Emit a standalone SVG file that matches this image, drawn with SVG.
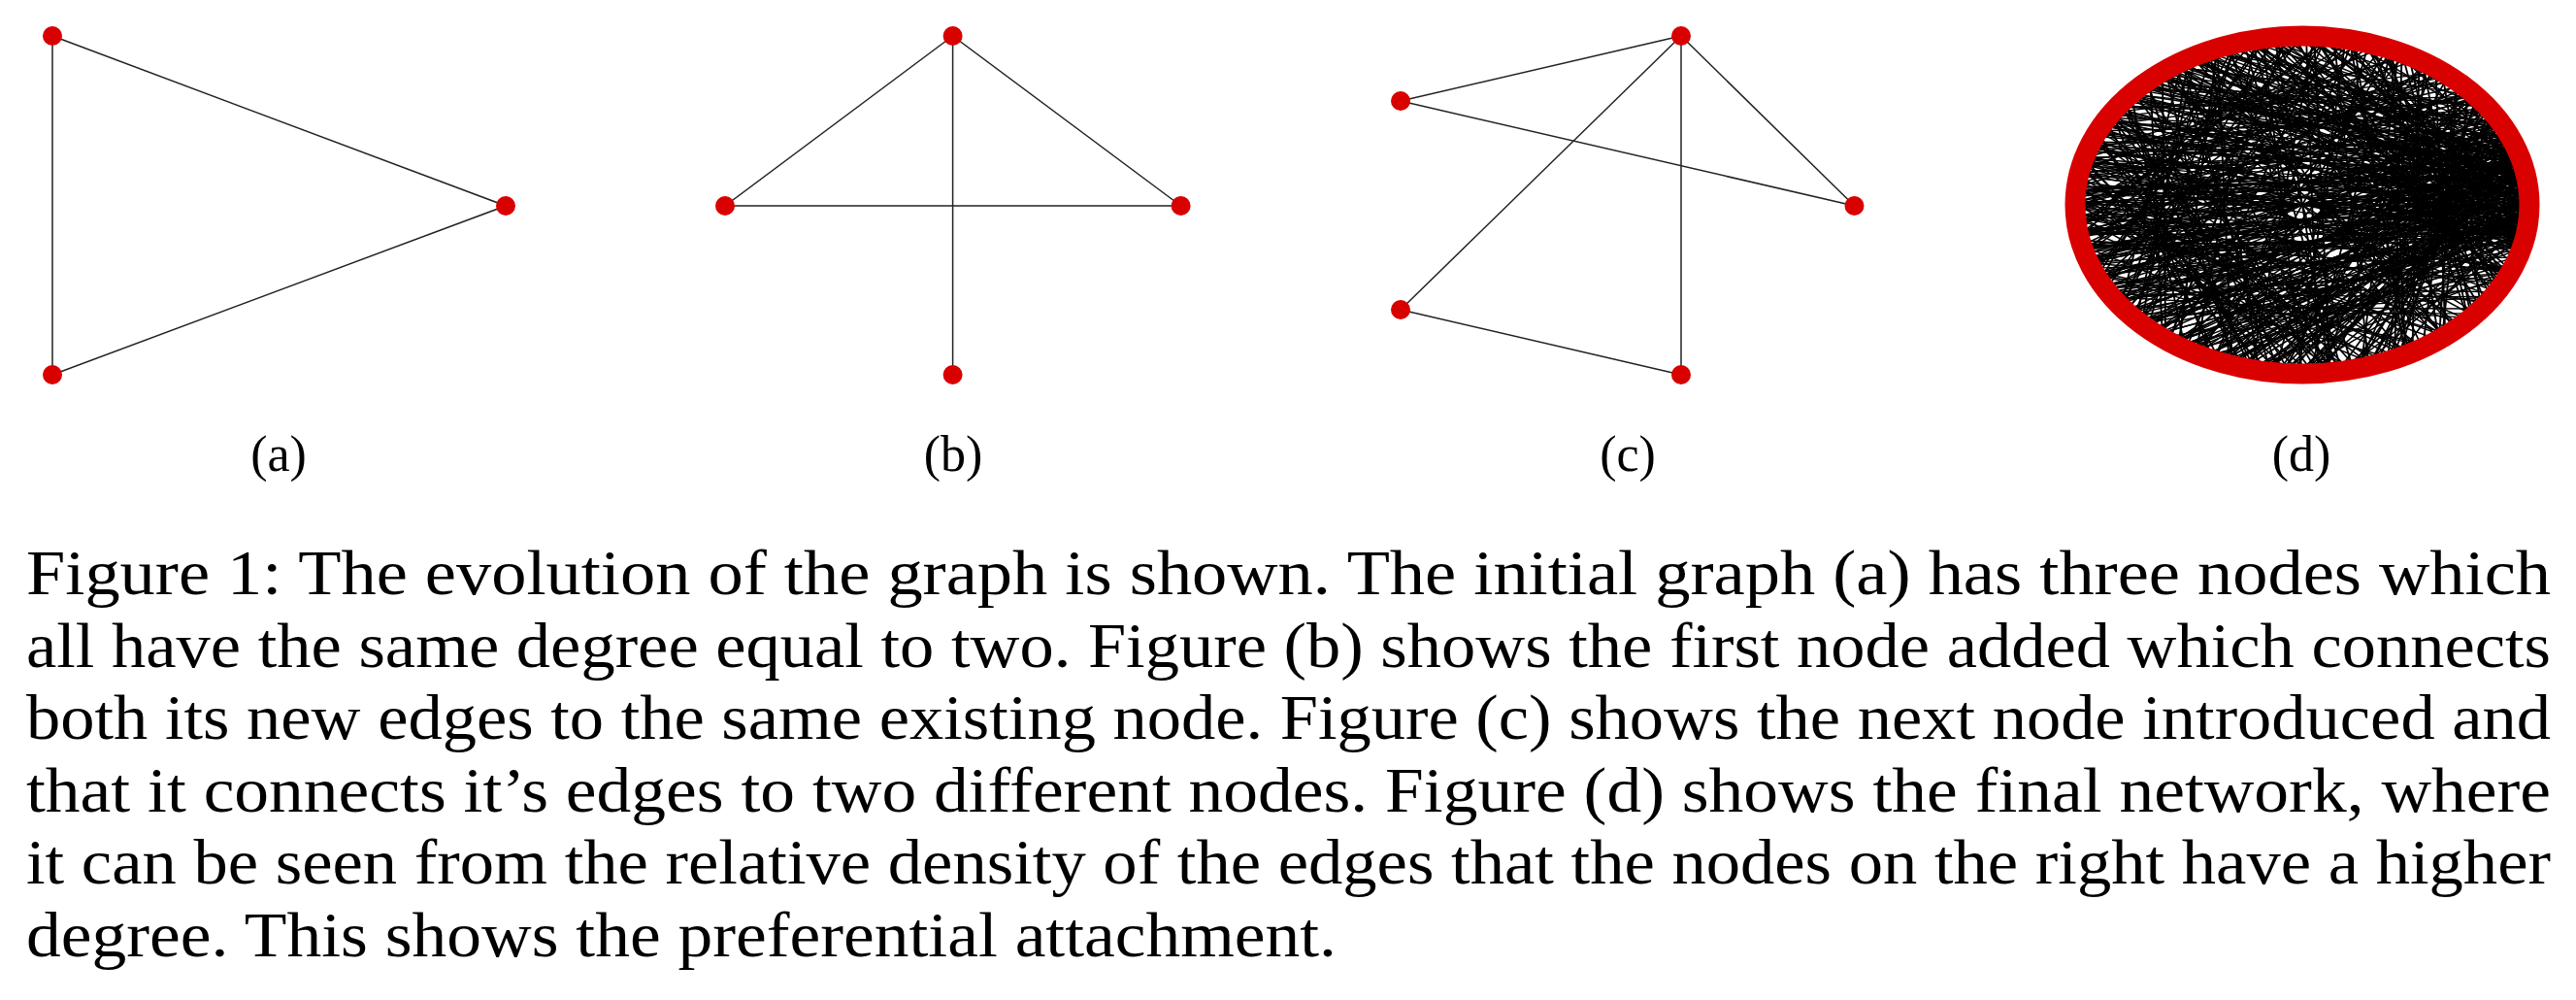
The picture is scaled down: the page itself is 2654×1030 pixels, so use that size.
<svg xmlns="http://www.w3.org/2000/svg" xmlns:xlink="http://www.w3.org/1999/xlink" width="2654" height="1030" viewBox="0 0 2654 1030">
<style>
.node{fill:#d90000}
.edge{stroke:#222;stroke-width:1.5;fill:none}
.dense{stroke:#000;stroke-width:0.8;fill:none}
.lbl{font-family:"Liberation Serif","Times New Roman",serif;font-size:52px;fill:#000;text-anchor:middle}
.cap{font-family:"Liberation Serif","Times New Roman",serif;font-size:65px;fill:#000}
</style>
<defs>
<path id="g1" class="dense" d="M98.5 17.4L-94 -34.2M81.9 57.4L-94 34.2M50 86.6L-34.2 -94M-8.7 99.6L64.3 -76.6M-50 86.6L94 34.2M-81.9 57.4L8.7 -99.6M-98.5 17.4L94 -34.2M-99.6 -8.7L70.7 70.7M-86.6 -50L-25.9 96.6M-64.3 -76.6L99.6 -8.7M-25.9 -96.6L17.4 98.5M0 -100L-86.6 50M34.2 -94L86.6 50M70.7 -70.7L-98.5 -17.4M86.6 -50L-57.4 81.9M98.5 -17.4L-76.6 -64.3M99.6 8.7L-34.2 94M90.6 42.3L-42.3 -90.6M64.3 76.6L-99.6 8.7M25.9 96.6L42.3 -90.6M-17.4 98.5L-90.6 -42.3M-64.3 76.6L98.5 -17.4M-90.6 42.3L-17.4 -98.5M-100 0L42.3 90.6M-94 -34.2L76.6 -64.3M-76.6 -64.3L96.6 25.9M-50 -86.6L-70.7 70.7M-8.7 -99.6L99.6 8.7M25.9 -96.6L-98.5 17.4M57.4 -81.9L8.7 99.6M81.9 -57.4L-57.4 -81.9M96.6 -25.9L-76.6 64.3M96.6 25.9L17.4 -98.5M76.6 64.3L-76.6 -64.3M34.2 94L-98.5 -17.4M0 100L-17.4 -98.5M-42.3 90.6L90.6 -42.3M-76.6 64.3L76.6 64.3M-96.6 25.9L57.4 -81.9M-96.6 -25.9L0 100"/>
<path id="g2" class="dense" d="M100 0L-100 0M100 0L-86.6 50M100 0L-86.6 -50M100 0L-50 86.6M100 0L-50 -86.6M100 0L-96.6 25.9M100 0L-96.6 -25.9M100 0L-70.7 70.7M98.5 -17.4L-98.5 17.4M98.5 -17.4L-94 -34.2M98.5 -17.4L-81.9 57.4M98.5 -17.4L-70.7 -70.7M98.5 -17.4L-17.4 98.5M98.5 -17.4L-25.9 -96.6M98.5 -17.4L-99.6 -8.7M98.5 -17.4L-94 34.2M98.5 17.4L-98.5 -17.4M98.5 17.4L-94 34.2M98.5 17.4L-81.9 -57.4M98.5 17.4L-64.3 76.6M98.5 17.4L-34.2 -94M98.5 17.4L-99.6 8.7M98.5 17.4L-34.2 94M98.5 17.4L-57.4 -81.9M96.6 -25.9L-90.6 42.3M96.6 -25.9L-90.6 -42.3M96.6 -25.9L-100 0M96.6 -25.9L-50 86.6M96.6 -25.9L0 -100M96.6 -25.9L-76.6 64.3M96.6 -25.9L-64.3 -76.6M96.6 -25.9L0 100M99.6 8.7L-99.6 -8.7M99.6 8.7L-96.6 25.9M99.6 8.7L-76.6 -64.3M99.6 8.7L-81.9 57.4M99.6 8.7L-96.6 -25.9M99.6 8.7L17.4 -98.5M99.6 8.7L-57.4 81.9M99.6 8.7L25.9 96.6"/>
<path id="g3" class="dense" d="M99.6 -8.7L-99.6 8.7M99.6 -8.7L-90.6 -42.3M99.6 -8.7L-64.3 76.6M99.6 -8.7L-50 -86.6M99.6 -8.7L-86.6 50M99.6 -8.7L-8.7 -99.6M99.6 -8.7L-34.2 94M99.6 -8.7L-98.5 -17.4M94 -34.2L-94 34.2M94 -34.2L-96.6 -25.9M94 -34.2L-81.9 -57.4M94 -34.2L-70.7 70.7M94 -34.2L-34.2 -94M94 -34.2L-17.4 98.5M94 -34.2L-99.6 8.7M94 -34.2L25.9 -96.6M96.6 25.9L-98.5 17.4M96.6 25.9L-94 -34.2M96.6 25.9L-76.6 64.3M96.6 25.9L-70.7 -70.7M96.6 25.9L-42.3 90.6M96.6 25.9L-99.6 -8.7M96.6 25.9L-42.3 -90.6M96.6 25.9L-8.7 99.6M90.6 -42.3L-96.6 25.9M90.6 -42.3L-99.6 -8.7M90.6 -42.3L-86.6 -50M90.6 -42.3L-57.4 81.9M90.6 -42.3L-17.4 -98.5M90.6 -42.3L-81.9 57.4M90.6 -42.3L-64.3 -76.6M90.6 -42.3L17.4 98.5M100 0L-90.6 42.3M100 0L-94 -34.2M100 0L-98.5 17.4M100 0L-70.7 -70.7M100 0L-25.9 96.6M100 0L-17.4 -98.5M100 0L-76.6 64.3M100 0L-99.6 -8.7"/>
</defs>
<rect width="2654" height="1030" fill="#fff"/>
<g id="connectors">
<g id="edges-a">
<line class="edge" x1="54" y1="37" x2="54" y2="386"/>
<line class="edge" x1="54" y1="37" x2="521" y2="212"/>
<line class="edge" x1="54" y1="386" x2="521" y2="212"/>
</g>
<g id="edges-b">
<line class="edge" x1="981.6" y1="37" x2="747" y2="212"/>
<line class="edge" x1="981.6" y1="37" x2="1216.6" y2="212"/>
<line class="edge" x1="747" y1="212" x2="1216.6" y2="212"/>
<line class="edge" x1="981.6" y1="37" x2="981.6" y2="386"/>
</g>
<g id="edges-c">
<line class="edge" x1="1732" y1="37" x2="1443" y2="104"/>
<line class="edge" x1="1443" y1="104" x2="1910.5" y2="212"/>
<line class="edge" x1="1732" y1="37" x2="1910.5" y2="212"/>
<line class="edge" x1="1732" y1="37" x2="1443" y2="319"/>
<line class="edge" x1="1732" y1="37" x2="1732" y2="386"/>
<line class="edge" x1="1443" y1="319" x2="1732" y2="386"/>
</g>
<g id="edges-d" transform="translate(2372 211) scale(2.34 1.74)">
<use xlink:href="#g1"/>
<use xlink:href="#g1" transform="rotate(37)"/>
<use xlink:href="#g1" transform="rotate(73)"/>
<use xlink:href="#g1" transform="rotate(151)"/>
<use xlink:href="#g1" transform="rotate(191)"/>
<use xlink:href="#g1" transform="rotate(223)"/>
<use xlink:href="#g1" transform="rotate(293)"/>
<use xlink:href="#g2"/>
<use xlink:href="#g2" transform="rotate(-9)"/>
<use xlink:href="#g2" transform="rotate(5)"/>
<use xlink:href="#g3" transform="rotate(-4)"/>
<use xlink:href="#g3" transform="rotate(-15)"/>
<use xlink:href="#g3" transform="rotate(9)"/>
</g>
</g>
<g id="graph-a">
<circle id="a1" class="node" cx="54" cy="37" r="10"/>
<circle id="a2" class="node" cx="521" cy="212" r="10"/>
<circle id="a3" class="node" cx="54" cy="386" r="10"/>
<text class="lbl" x="287" y="485">(a)</text>
</g>
<g id="graph-b">
<circle id="b1" class="node" cx="981.6" cy="37" r="10"/>
<circle id="b2" class="node" cx="747" cy="212" r="10"/>
<circle id="b3" class="node" cx="1216.6" cy="212" r="10"/>
<circle id="b4" class="node" cx="981.6" cy="386" r="10"/>
<text class="lbl" x="982" y="485">(b)</text>
</g>
<g id="graph-c">
<circle id="c1" class="node" cx="1732" cy="37" r="10"/>
<circle id="c2" class="node" cx="1443" cy="104" r="10"/>
<circle id="c3" class="node" cx="1910.5" cy="212" r="10"/>
<circle id="c4" class="node" cx="1443" cy="319" r="10"/>
<circle id="c5" class="node" cx="1732" cy="386" r="10"/>
<text class="lbl" x="1677" y="485">(c)</text>
</g>
<g id="graph-d">
<ellipse id="d-ring" cx="2372" cy="211" rx="234" ry="174" fill="none" stroke="#d90000" stroke-width="21"/>
<text class="lbl" x="2371" y="485">(d)</text>
</g>
<g id="caption" class="cap">
<text x="27" y="612" textLength="2601" lengthAdjust="spacingAndGlyphs">Figure 1: The evolution of the graph is shown. The initial graph (a) has three nodes which</text>
<text x="27" y="687" textLength="2601" lengthAdjust="spacingAndGlyphs">all have the same degree equal to two. Figure (b) shows the first node added which connects</text>
<text x="27" y="761" textLength="2601" lengthAdjust="spacingAndGlyphs">both its new edges to the same existing node. Figure (c) shows the next node introduced and</text>
<text x="27" y="836" textLength="2601" lengthAdjust="spacingAndGlyphs">that it connects it’s edges to two different nodes. Figure (d) shows the final network, where</text>
<text x="27" y="910" textLength="2601" lengthAdjust="spacingAndGlyphs">it can be seen from the relative density of the edges that the nodes on the right have a higher</text>
<text x="27" y="985" textLength="1350" lengthAdjust="spacingAndGlyphs">degree. This shows the preferential attachment.</text>
</g>
</svg>
